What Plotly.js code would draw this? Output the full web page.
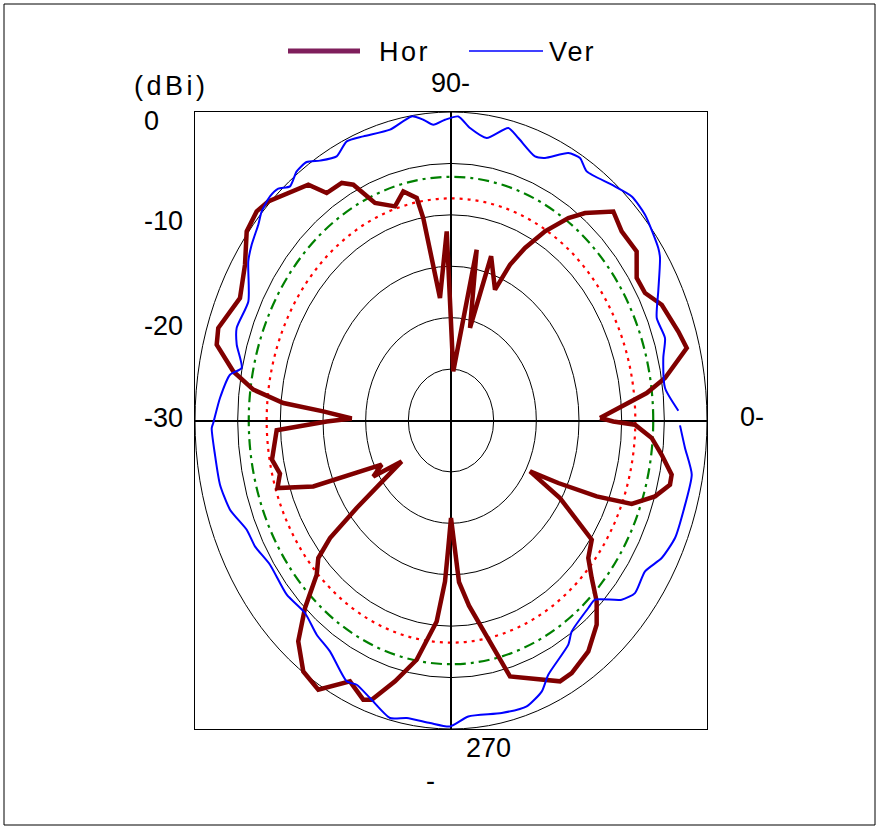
<!DOCTYPE html>
<html>
<head>
<meta charset="utf-8">
<script src="https://cdn.plot.ly/plotly-3.0.1.min.js"></script>
<style>
html,body{margin:0;padding:0;background:#fff;}
#chart{width:879px;height:829px;}
</style>
</head>
<body>
<div id="chart"></div>
<script>
// ---- Data (angle in degrees, gain in dBi) ----
const thetaHor = [0.8, 5.75, 6.65, 9.36, 14.32, 18.0, 24.51, 28.6, 32.5, 37.08, 42.6, 46.9, 52.1, 55.07, 59.07, 62.67, 65.48, 67.93, 73.6, 76.1, 79.73, 86.8, 91.56, 96.18, 99.37, 100.52, 104.08, 107.49, 112.84, 116.53, 119.0, 123.37, 126.1, 135.13, 138.24, 142.47, 147.89, 154.28, 161.74, 164.98, 169.41, 172.62, 175.05, 176.62, 179.06, 180.35, 182.64, 190.3, 194.47, 197.89, 201.66, 207.9, 210.85, 214.53, 217.6, 218.87, 220.69, 223.62, 226.82, 230.19, 234.65, 239.29, 244.98, 249.26, 251.11, 255.5, 260.19, 265.09, 267.44, 268.52, 270.0, 273.42, 276.68, 285.52, 293.6, 296.72, 299.94, 305.63, 310.68, 314.14, 317.1, 320.27, 324.9, 329.44, 331.87, 334.19, 336.62, 339.02, 342.85, 346.33, 348.48, 352.32, 355.87, 358.91, 359.73];
const rHor = [-12.54, -8.13, -6.91, -4.58, -1.49, -1.99, -2.86, -4.1, -4.2, -2.73, -2.83, -2.16, -4.43, -5.98, -8.56, -11.11, -13.35, -16.27, -13.35, -20.73, -13.12, -25.22, -11.6, -18.02, -10.04, -7.99, -7.03, -8.17, -7.05, -4.37, -3.59, -3.51, -1.62, 0.21, 0.53, 0.19, -1.5, -2.55, -1.28, -1.57, -4.05, -6.64, -10.28, -15.0, -18.36, -15.43, -9.55, -8.68, -9.3, -8.63, -12.63, -20.81, -19.39, -22.98, -16.05, -11.79, -9.49, -8.26, -5.0, -2.04, -0.08, 0.45, -2.0, -0.97, -1.3, -3.8, -6.39, -10.39, -14.33, -17.6, -20.52, -14.25, -11.87, -4.17, -2.49, -1.6, -1.66, -2.38, -3.81, -5.49, -7.49, -9.08, -9.84, -15.17, -19.5, -16.04, -11.4, -7.32, -4.98, -3.59, -3.61, -5.09, -6.42, -8.44, -10.98];

const thetaVer = [2.05, 7.18, 13.73, 17.73, 22.46, 27.33, 32.83, 34.63, 41.35, 45.81, 50.6, 56.7, 59.37, 62.14, 66.66, 69.03, 73.97, 76.71, 81.35, 85.52, 88.34, 91.37, 94.12, 96.34, 98.86, 104.19, 110.4, 114.24, 117.55, 121.28, 123.93, 126.74, 129.65, 131.92, 134.23, 137.5, 139.86, 143.8, 146.92, 154.01, 160.28, 163.64, 168.24, 170.25, 175.38, 180.5, 181.5, 186.86, 192.98, 198.51, 203.93, 208.05, 213.47, 221.35, 227.57, 232.93, 237.72, 244.28, 246.73, 250.63, 256.12, 259.83, 265.22, 269.77, 274.03, 281.79, 287.7, 292.0, 294.76, 302.24, 304.6, 311.43, 314.08, 318.93, 322.1, 327.17, 331.56, 336.47, 342.0, 349.42, 354.44, 358.98];
const rVer = [-3.34, -4.72, -4.39, -3.67, -3.91, -2.66, -0.85, -0.48, 0.29, 0.39, -0.33, -1.02, -0.33, -0.58, -2.19, -2.5, -1.42, -0.77, -2.21, -1.47, -0.42, -0.74, -1.16, -0.57, -0.07, -0.83, -0.52, -0.23, -1.03, -0.43, 0.3, 0.23, -0.43, 0.3, 0.41, 0.09, -0.46, -1.05, -1.65, -3.58, -3.32, -3.83, -4.94, -3.72, -2.84, -2.14, -1.95, -2.14, -2.22, -2.69, -3.81, -3.97, -4.57, -4.36, -4.64, -3.89, -3.44, -1.84, -2.03, -1.39, -0.2, -0.61, -0.48, -0.25, -1.15, -0.94, -0.82, -1.59, -2.78, -4.23, -5.08, -5.68, -5.74, -3.47, -2.68, -2.94, -1.92, -1.37, -1.38, -1.3, -2.45, -3.16];

const gridLevels = [-25, -20, -15, -10, -5, 0];
const refGreen = -6.3;
const refRed = -8.4;
const tickLabels = ['0', '-10', '-20', '-30'];
const seriesNames = ['Hor', 'Ver'];

// ---- Scale: radial axis from -30 (centre) to 0 dBi (edge) ----
const rMin = -30;
function toXY(th, r, close) {
  const x = [], y = [];
  for (let i = 0; i < th.length; i++) {
    const a = th[i] * Math.PI / 180, rho = r[i] - rMin;
    x.push(rho * Math.cos(a)); y.push(rho * Math.sin(a));
  }
  if (close) { x.push(x[0]); y.push(y[0]); }
  return {x, y};
}
const hor = toXY(thetaHor, rHor, true);
const ver = toXY(thetaVer, rVer, false);

const L = 195, T = 112, W = 512, H = 617;
const PX = p => (p - L) / W;
const PY = p => (T + H - p) / H;
const FONT = {family: 'Liberation Sans, Arial, sans-serif', size: 27, color: '#000'};

const shapes = [];
gridLevels.forEach(g => {
  const k = g - rMin;
  shapes.push({type: 'circle', xref: 'x', yref: 'y', x0: -k, x1: k, y0: -k, y1: k,
    line: {color: '#000', width: 1}, layer: 'below'});
});
[[refGreen, '#008000', '11px,5px,3px,5px'], [refRed, '#ff0000', '3px,5px']].forEach(([g, c, d]) => {
  const k = g - rMin;
  shapes.push({type: 'circle', xref: 'x', yref: 'y', x0: -k, x1: k, y0: -k, y1: k,
    line: {color: c, width: 2.2, dash: d}, layer: 'below'});
});
// outer frame
shapes.push({type: 'rect', xref: 'paper', yref: 'paper', x0: PX(4), x1: PX(875), y0: PY(825), y1: PY(4),
  line: {color: '#000', width: 1}});
// legend samples
shapes.push({type: 'line', xref: 'paper', yref: 'paper', x0: PX(288), x1: PX(360), y0: PY(51), y1: PY(51),
  line: {color: '#7f1f5c', width: 5}});
shapes.push({type: 'line', xref: 'paper', yref: 'paper', x0: PX(469), x1: PX(543), y0: PY(51), y1: PY(51),
  line: {color: '#0000ff', width: 1.5}});

const ann = [];
function txt(t, x, y, xa, sp) {
  const s = sp ? '<span style="letter-spacing:' + sp + 'px">' + t + '</span>' : t;
  ann.push({text: s, xref: 'paper', yref: 'paper', x: PX(x), y: PY(y), xanchor: xa || 'left',
    yanchor: 'middle', showarrow: false, font: FONT});
}
txt(seriesNames[0], 377, 52, 'left', 2.5);
txt(seriesNames[1], 547, 52, 'left', 2);
txt('(dBi)', 132, 86, 'left', 3.5);
const tickY = [121, 221, 326, 418];
tickLabels.forEach((t, i) => txt(t, 142, tickY[i]));
txt('90-', 429, 83);
txt('0-', 738, 417);
txt('270', 464, 748);
txt('-', 424, 781, 'left');

const ax = {range: [-30, 30], showgrid: false, zeroline: true, zerolinecolor: '#000', zerolinewidth: 2,
  showticklabels: false, ticks: '', showline: true, mirror: true, linecolor: '#000', linewidth: 1, fixedrange: true};

const data = [
  {x: hor.x, y: hor.y, type: 'scatter', mode: 'lines', name: seriesNames[0],
   line: {color: '#800000', width: 4.5}},
  {x: ver.x, y: ver.y, type: 'scatter', mode: 'lines', name: seriesNames[1],
   line: {color: '#0000ff', width: 2, shape: 'spline', smoothing: 0.6}}
];

Plotly.newPlot('chart', data, {
  width: 879, height: 829,
  margin: {l: L, r: 879 - L - W, t: T, b: 829 - T - H, pad: 0},
  paper_bgcolor: '#fff', plot_bgcolor: '#fff',
  showlegend: false,
  xaxis: ax, yaxis: Object.assign({}, ax),
  shapes: shapes, annotations: ann
}, {displayModeBar: false, staticPlot: true});
</script>
</body>
</html>
